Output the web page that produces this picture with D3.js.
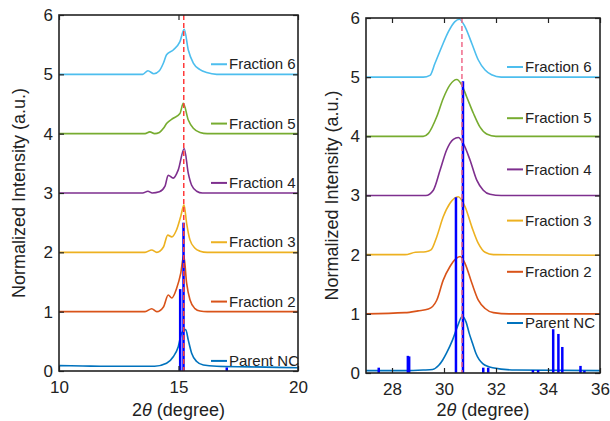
<!DOCTYPE html>
<html>
<head>
<meta charset="utf-8">
<script src="https://cdn.jsdelivr.net/npm/d3@7"></script>
<style>
  body { margin: 0; background: #fff; }
  svg { font-family: "Liberation Sans", Arial, sans-serif; }
</style>
</head>
<body>
<script>
// series names + colours (matlab default order)
const seriesNames = ["Parent NC", "Fraction 2", "Fraction 3", "Fraction 4", "Fraction 5", "Fraction 6"];
const seriesColors = ["#0072BD", "#D95319", "#EDB120", "#7E2F8E", "#77AC30", "#4DBEEE"];

// left panel (2theta 10-20), values already offset by fraction
const parentLeft = [[10,0.09],[11,0.085],[12,0.08],[13,0.08],[14,0.08],[14.5,0.13],[14.78,0.24],[14.99,0.41],[15.13,0.64],[15.3,0.70],[15.41,0.52],[15.55,0.3],[15.76,0.16],[16.04,0.1],[16.6,0.08],[18,0.07],[20,0.055]];
const frac2Left = [[10,1.0],[13.6,1.0],[13.88,1.05],[14.09,1.0],[14.37,1.08],[14.57,1.28],[14.72,1.23],[14.92,1.39],[15.09,1.64],[15.22,1.95],[15.34,1.48],[15.48,1.2],[15.69,1.05],[15.9,1.01],[16.2,1.0],[20,1.0]];
const frac3Left = [[10,2.0],[13.6,2.0],[13.88,2.04],[14.09,2.0],[14.37,2.09],[14.55,2.29],[14.72,2.26],[14.92,2.38],[15.09,2.6],[15.23,2.8],[15.34,2.49],[15.48,2.21],[15.69,2.07],[15.9,2.02],[16.2,2.0],[20,2.0]];
const frac4Left = [[10,3.0],[13.5,3.0],[13.72,3.03],[13.9,3.0],[14.2,3.02],[14.43,3.11],[14.57,3.3],[14.78,3.25],[14.99,3.39],[15.24,3.75],[15.41,3.33],[15.55,3.13],[15.76,3.03],[16.0,3.0],[20,3.0]];
const frac5Left = [[10,4.0],[13.6,4.0],[13.8,4.03],[14.0,4.0],[14.2,4.02],[14.37,4.09],[14.5,4.17],[14.78,4.26],[15.06,4.34],[15.2,4.51],[15.41,4.23],[15.62,4.09],[15.9,4.02],[16.2,4.0],[20,4.0]];
const frac6Left = [[10,5.0],[13.5,5.0],[13.72,5.06],[13.97,5.01],[14.2,5.06],[14.37,5.19],[14.5,5.33],[14.78,5.41],[15.06,5.55],[15.24,5.76],[15.41,5.41],[15.62,5.19],[15.9,5.08],[16.18,5.03],[16.6,5.0],[20,5.0]];

// right panel (2theta 27-36)
const parentRight = [[27,0.04],[28.5,0.04],[29.2,0.05],[29.56,0.06],[29.8,0.13],[29.95,0.22],[30.1,0.34],[30.33,0.56],[30.53,0.8],[30.7,0.96],[30.85,0.86],[30.97,0.67],[31.1,0.5],[31.23,0.33],[31.49,0.16],[31.87,0.09],[32.77,0.05],[36,0.04]];
const frac2Right = [[27,1.0],[28.5,1.02],[29.0,1.05],[29.4,1.08],[29.72,1.23],[29.97,1.57],[30.23,1.8],[30.45,1.93],[30.62,1.97],[30.81,1.85],[31.07,1.52],[31.32,1.23],[31.58,1.09],[31.9,1.02],[32.5,1.0],[36,1.0]];
const frac3Right = [[27,2.0],[28.5,2.0],[28.9,2.04],[29.3,2.05],[29.5,2.08],[29.72,2.3],[29.97,2.64],[30.23,2.87],[30.55,2.98],[30.81,2.81],[31.07,2.47],[31.32,2.19],[31.58,2.04],[31.9,2.0],[36,1.99]];
const frac4Right = [[27,3.0],[29.3,3.0],[29.59,3.09],[29.85,3.43],[30.1,3.77],[30.36,3.95],[30.55,3.98],[30.74,3.88],[31.0,3.6],[31.26,3.26],[31.51,3.09],[31.77,3.02],[32.2,3.0],[36,3.0]];
const frac5Right = [[27,4.0],[29.2,4.0],[29.4,4.05],[29.72,4.33],[29.97,4.64],[30.23,4.87],[30.49,4.96],[30.68,4.87],[30.87,4.67],[31.13,4.39],[31.38,4.16],[31.64,4.04],[32.0,4.0],[36,4.0]];
const frac6Right = [[27,5.0],[29.2,5.0],[29.46,5.03],[29.65,5.23],[29.91,5.51],[30.17,5.77],[30.42,5.94],[30.59,5.98],[30.81,5.85],[31.07,5.57],[31.32,5.29],[31.58,5.12],[31.83,5.04],[32.2,5.0],[36,5.0]];

// reference pattern sticks
const leftBarPos = [15.07, 15.21, 17.02];
const leftBarHeight = [1.38, 2.5, 0.06];
const rightBarPos = [27.49, 28.61, 28.66, 30.46, 30.73, 31.51, 31.7, 33.42, 33.62, 34.2, 34.4, 34.55, 35.25, 35.4];
const rightBarHeight = [0.09, 0.29, 0.28, 2.97, 4.93, 0.09, 0.09, 0.05, 0.05, 0.74, 0.66, 0.44, 0.12, 0.04];

// dashed marker position
const leftRef = 15.22;
const rightRef = 30.69;

const leftXTicks = [10, 15, 20];
const rightXTicks = [28, 30, 32, 34, 36];
const yTicks = [0, 1, 2, 3, 4, 5, 6];

const w = 610;
const h = 421;

const svg = d3.select("body").append("svg").attr("width", w).attr("height", h);

function drawPanel(cfg) {
  const xScale = d3.scaleLinear().domain(cfg.xDomain).range([cfg.left, cfg.right]);
  const yScale = d3.scaleLinear().domain([0, 6]).range([cfg.bottom, cfg.top]);

  const g = svg.append("g");
  g.append("clipPath").attr("id", cfg.id)
    .append("rect")
    .attr("x", cfg.left).attr("y", cfg.top)
    .attr("width", cfg.right - cfg.left).attr("height", cfg.bottom - cfg.top);

  const plot = g.append("g").attr("clip-path", "url(#" + cfg.id + ")");

  const line = d3.line()
    .x((d) => xScale(d[0]))
    .y((d) => yScale(d[1]))
    .curve(d3.curveMonotoneX);

  // curves
  cfg.series.forEach(function (s, i) {
    plot.append("path")
      .attr("d", line(s))
      .attr("fill", "none")
      .attr("stroke", seriesColors[i])
      .attr("stroke-width", 1.6);
  });

  // sticks
  plot.selectAll("line.bar")
    .data(cfg.barPos)
    .enter()
    .append("line")
    .attr("class", "bar")
    .attr("x1", (d) => xScale(d))
    .attr("x2", (d) => xScale(d))
    .attr("y1", yScale(0))
    .attr("y2", (d, i) => yScale(cfg.barHeight[i]))
    .attr("stroke", "#0000ff")
    .attr("stroke-width", 2.5);

  // dashed line
  plot.append("line")
    .attr("x1", xScale(cfg.ref)).attr("x2", xScale(cfg.ref))
    .attr("y1", cfg.top).attr("y2", cfg.bottom)
    .attr("stroke", cfg.refColor)
    .attr("stroke-width", 1.5)
    .attr("stroke-dasharray", "5,3");

  // axes (ticks inside, mirrored)
  const tickLen = 5;
  const fmt = d3.format("d");
  g.append("g")
    .attr("transform", "translate(0," + cfg.bottom + ")")
    .call(d3.axisBottom(xScale).tickValues(cfg.xTicks).tickFormat(fmt).tickSizeInner(-tickLen).tickSizeOuter(0).tickPadding(10))
    .call((a) => a.select(".domain").remove());
  g.append("g")
    .attr("transform", "translate(0," + cfg.top + ")")
    .call(d3.axisTop(xScale).tickValues(cfg.xTicks).tickSizeInner(-tickLen).tickSizeOuter(0).tickFormat(""))
    .call((a) => a.select(".domain").remove());
  g.append("g")
    .attr("transform", "translate(" + cfg.left + ",0)")
    .call(d3.axisLeft(yScale).tickValues(yTicks).tickFormat(fmt).tickSizeInner(-tickLen).tickSizeOuter(0).tickPadding(6))
    .call((a) => a.select(".domain").remove());
  g.append("g")
    .attr("transform", "translate(" + cfg.right + ",0)")
    .call(d3.axisRight(yScale).tickValues(yTicks).tickSizeInner(-tickLen).tickSizeOuter(0).tickFormat(""))
    .call((a) => a.select(".domain").remove());

  g.selectAll(".tick line").attr("stroke", "#222").attr("stroke-width", 1.2);
  g.selectAll(".tick text").attr("font-size", 17).attr("fill", "#222")
    .attr("font-family", "Liberation Sans, Arial, sans-serif");

  g.append("rect")
    .attr("x", cfg.left).attr("y", cfg.top)
    .attr("width", cfg.right - cfg.left).attr("height", cfg.bottom - cfg.top)
    .attr("fill", "none").attr("stroke", "#222").attr("stroke-width", 1.6);

  // legend labels
  seriesNames.forEach(function (name, i) {
    const ly = cfg.legendY(i, yScale);
    g.append("line")
      .attr("x1", cfg.right - cfg.legendOffset).attr("x2", cfg.right - cfg.legendOffset + 16)
      .attr("y1", ly).attr("y2", ly)
      .attr("stroke", seriesColors[i]).attr("stroke-width", 2);
    g.append("text")
      .attr("x", cfg.right - cfg.legendOffset + 18)
      .attr("y", ly)
      .attr("dy", "0.35em")
      .attr("font-size", 15)
      .attr("fill", "#222")
      .text(name);
  });

  // axis titles
  const xt = g.append("text")
    .attr("x", (cfg.left + cfg.right) / 2)
    .attr("y", 416)
    .attr("text-anchor", "middle")
    .attr("font-size", 18)
    .attr("fill", "#222");
  xt.append("tspan").text("2");
  xt.append("tspan").attr("font-style", "italic").text("θ");
  xt.append("tspan").text(" (degree)");

  g.append("text")
    .attr("transform", "translate(" + cfg.yTitleX + "," + (cfg.top + cfg.bottom) / 2 + ") rotate(-90)")
    .attr("text-anchor", "middle")
    .attr("font-size", 18)
    .attr("fill", "#222")
    .text("Normalized Intensity (a.u.)");
}

drawPanel({
  id: "clipL",
  xDomain: [10, 20],
  left: 59, right: 298, top: 15, bottom: 371,
  series: [parentLeft, frac2Left, frac3Left, frac4Left, frac5Left, frac6Left],
  barPos: leftBarPos, barHeight: leftBarHeight,
  ref: leftRef, refColor: "#ff3b3b",
  xTicks: leftXTicks,
  legendOffset: 87,
  legendY: (i, y) => y(i + 0.17),
  yTitleX: 25
});

drawPanel({
  id: "clipR",
  xDomain: [27, 36],
  left: 366, right: 600, top: 18, bottom: 373,
  series: [parentRight, frac2Right, frac3Right, frac4Right, frac5Right, frac6Right],
  barPos: rightBarPos, barHeight: rightBarHeight,
  ref: rightRef, refColor: "#f06a8a",
  xTicks: rightXTicks,
  legendOffset: 93,
  legendY: (i) => 323 - i * 51.2,
  yTitleX: 338
});
</script>
</body>
</html>
